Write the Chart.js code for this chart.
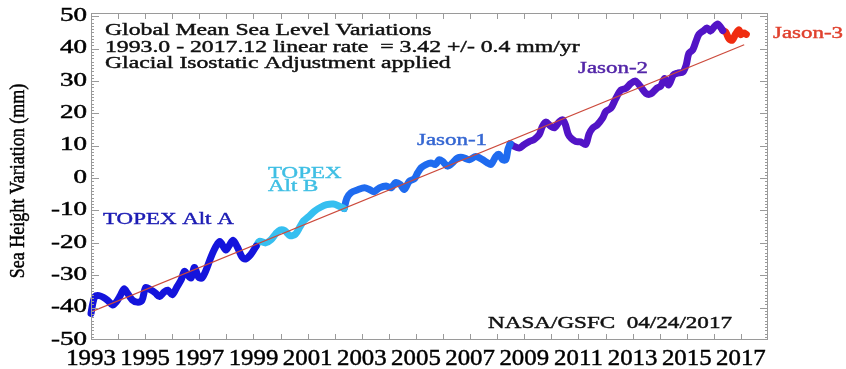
<!DOCTYPE html>
<html>
<head>
<meta charset="utf-8">
<script src="https://cdn.jsdelivr.net/npm/chart.js@4/dist/chart.umd.min.js"></script>
<style>
  html, body { margin: 0; padding: 0; background: #ffffff; }
  #wrap { width: 846px; height: 369px; }
</style>
</head>
<body>
<div id="wrap"><canvas id="c" width="846" height="369"></canvas></div>
<script>
// Global mean sea level, mm, by mission (decimal years)
const topexAYears = [1993.00,1993.06,1993.15,1993.30,1993.45,1993.62,1993.80,1993.93,1994.08,1994.22,1994.35,1994.52,1994.70,1994.88,1995.02,1995.20,1995.38,1995.53,1995.70,1995.83,1996.00,1996.18,1996.33,1996.45,1996.57,1996.70,1996.82,1996.97,1997.10,1997.25,1997.43,1997.62,1997.76,1997.98,1998.12,1998.25,1998.40,1998.58,1998.70,1998.90,1999.10];
const topexAValues = [-41.8,-39.0,-36.5,-36.3,-36.8,-37.8,-39.2,-38.3,-36.3,-34.2,-35.6,-37.6,-38.3,-37.8,-33.8,-34.5,-35.5,-36.6,-35.2,-34.6,-36.0,-33.5,-31.4,-28.8,-30.0,-30.8,-27.6,-30.6,-30.8,-28.4,-24.4,-21.0,-19.6,-22.2,-20.6,-19.2,-21.2,-24.4,-25.0,-23.6,-21.0];

const topexBYears = [1999.10,1999.22,1999.45,1999.65,1999.82,1999.98,2000.15,2000.35,2000.55,2000.72,2000.85,2001.05,2001.25,2001.48,2001.70,2001.95,2002.15,2002.35];
const topexBValues = [-21.0,-19.5,-20.0,-19.0,-17.2,-16.0,-16.2,-17.8,-17.3,-15.0,-13.2,-11.8,-10.2,-9.0,-8.2,-8.0,-8.6,-9.4];

const jason1Years = [2002.35,2002.45,2002.60,2002.85,2003.10,2003.30,2003.45,2003.65,2003.90,2004.08,2004.25,2004.42,2004.57,2004.75,2004.94,2005.06,2005.19,2005.37,2005.55,2005.72,2005.86,2005.98,2006.17,2006.35,2006.53,2006.72,2006.97,2007.21,2007.46,2007.64,2007.77,2007.95,2008.07,2008.20,2008.32,2008.40,2008.48];
const jason1Values = [-9.4,-6.2,-4.5,-3.6,-3.0,-3.6,-4.2,-3.0,-2.4,-3.0,-1.4,-2.0,-3.5,-1.0,-0.2,1.6,3.2,4.2,4.7,4.2,5.7,5.2,3.7,4.7,6.2,6.4,5.7,6.7,5.7,4.7,4.2,6.7,7.3,5.7,5.7,9.0,10.6];

const jason2Years = [2008.48,2008.63,2008.81,2008.99,2009.18,2009.36,2009.55,2009.67,2009.80,2009.98,2010.12,2010.30,2010.42,2010.52,2010.62,2010.74,2010.90,2011.08,2011.27,2011.39,2011.52,2011.70,2011.89,2012.01,2012.20,2012.38,2012.57,2012.75,2012.93,2013.10,2013.30,2013.49,2013.67,2013.90,2014.04,2014.18,2014.33,2014.50,2014.65,2014.86,2014.98,2015.08,2015.22,2015.33,2015.45,2015.63,2015.74,2015.88,2016.00,2016.14,2016.25,2016.33];
const jason2Values = [10.6,9.8,9.3,10.3,11.3,11.9,13.4,16.0,17.3,16.0,15.6,17.5,18.0,16.5,13.6,12.2,11.3,11.2,10.4,13.6,15.4,16.5,18.5,20.6,21.6,24.6,27.2,27.7,29.2,30.0,28.2,26.2,26.0,27.8,28.4,30.8,28.8,31.8,32.4,32.8,35.0,38.6,39.6,42.0,44.4,45.6,46.4,45.4,46.6,47.6,46.6,45.6];

const jason3Years = [2016.33,2016.44,2016.56,2016.68,2016.81,2016.93,2016.99,2017.11,2017.20];
const jason3Values = [45.6,45.1,43.0,42.6,44.6,45.8,44.3,44.8,44.4];

// Linear fit 1993.0 - 2017.12, 3.42 mm/yr
const trendYears = [1993.0, 2017.12];
const trendValues = [-41.3, 41.2];

// Axis ticks and labels
const xLabelYears = [1993,1995,1997,1999,2001,2003,2005,2007,2009,2011,2013,2015,2017];
const yLabelValues = [-50,-40,-30,-20,-10,0,10,20,30,40,50];

const titleLines = [
  'Global Mean Sea Level Variations',
  '1993.0 - 2017.12 linear rate  = 3.42 +/- 0.4 mm/yr',
  'Glacial Isostatic Adjustment applied'
];
const creditText = 'NASA/GSFC  04/24/2017';
const yAxisTitle = 'Sea Height Variation (mm)';

const SERIF = '"Liberation Serif", "Times New Roman", "DejaVu Serif", serif';

function pts(xs, ys) { return xs.map((x, i) => ({ x: x, y: ys[i] })); }

// Serif text, widened horizontally, lightly stroked for weight
function stretchText(ctx, text, x, y, size, sx, align, color) {
  ctx.save();
  ctx.font = size + 'px ' + SERIF;
  ctx.fillStyle = color;
  ctx.strokeStyle = color;
  ctx.lineWidth = 0.45;
  ctx.textBaseline = 'middle';
  ctx.textAlign = 'left';
  const w = ctx.measureText(text).width * sx;
  const left = align === 'left' ? x : (align === 'right' ? x - w : x - w / 2);
  ctx.translate(left, y);
  ctx.scale(sx, 1);
  ctx.fillText(text, 0, 0);
  ctx.strokeText(text, 0, 0);
  ctx.restore();
}

const frameAndText = {
  id: 'frameAndText',
  afterDraw(chart) {
    const ctx = chart.ctx;
    const xs = chart.scales.x, ys = chart.scales.y;
    const a = chart.chartArea;
    ctx.save();
    // frame
    ctx.strokeStyle = '#9a9a9a';
    ctx.lineWidth = 1;
    ctx.strokeRect(a.left + 0.5, a.top + 0.5, a.right - a.left - 1, a.bottom - a.top - 1);
    // year ticks on bottom and top
    ctx.beginPath();
    for (let yr = 1994; yr < 2018; yr++) {
      const px = Math.round(xs.getPixelForValue(yr)) + 0.5;
      ctx.moveTo(px, a.bottom); ctx.lineTo(px, a.bottom - 6);
      ctx.moveTo(px, a.top); ctx.lineTo(px, a.top + 6);
    }
    // mm ticks on left and right
    for (let v = -49; v <= 50; v++) {
      const py = Math.round(ys.getPixelForValue(v)) + 0.5;
      const len = (v % 10 === 0) ? 8 : 3;
      ctx.moveTo(a.left, py); ctx.lineTo(a.left + len, py);
      ctx.moveTo(a.right, py); ctx.lineTo(a.right - len, py);
    }
    ctx.stroke();
    ctx.restore();

    // tick labels
    xLabelYears.forEach(yr => {
      stretchText(ctx, String(yr), xs.getPixelForValue(yr), 359, 23, 1.08, 'center', '#000');
    });
    yLabelValues.forEach(v => {
      stretchText(ctx, String(v), 87, ys.getPixelForValue(v), 18, 1.5, 'right', '#000');
    });

    // axis title (rotated)
    ctx.save();
    ctx.translate(19, 181);
    ctx.rotate(-Math.PI / 2);
    ctx.scale(1, 1.15);
    ctx.font = '18px ' + SERIF;
    ctx.fillStyle = '#000';
    ctx.strokeStyle = '#000';
    ctx.lineWidth = 0.4;
    ctx.textAlign = 'center';
    ctx.textBaseline = 'middle';
    ctx.fillText(yAxisTitle, 0, 0);
    ctx.strokeText(yAxisTitle, 0, 0);
    ctx.restore();

    // header lines
    const hy = [30, 47, 63];
    titleLines.forEach((t, i) => stretchText(ctx, t, 105, hy[i], 17.5, 1.355, 'left', '#111'));
    stretchText(ctx, creditText, 732, 323, 17.5, 1.32, 'right', '#111');

    // mission labels
    stretchText(ctx, 'TOPEX Alt A', 103, 219, 17.5, 1.31, 'left', '#1c1cb4');
    stretchText(ctx, 'TOPEX', 268, 173, 17.5, 1.31, 'left', '#3fbfe4');
    stretchText(ctx, 'Alt B', 268, 186, 17.5, 1.31, 'left', '#3fbfe4');
    stretchText(ctx, 'Jason-1', 417, 140, 17.5, 1.31, 'left', '#3567d2');
    stretchText(ctx, 'Jason-2', 578, 68, 17.5, 1.31, 'left', '#5326a8');
    stretchText(ctx, 'Jason-3', 773, 33, 17.5, 1.31, 'left', '#e0412e');
  }
};

const seriesStyle = (color) => ({
  borderColor: color,
  backgroundColor: color,
  borderWidth: 7,
  pointRadius: 0,
  tension: 0.3,
  borderCapStyle: 'round',
  borderJoinStyle: 'round',
  fill: false,
  order: 2,
  clip: 6
});

new Chart(document.getElementById('c'), {
  type: 'line',
  data: {
    datasets: [
      Object.assign({ label: 'TOPEX Alt A', data: pts(topexAYears, topexAValues) }, seriesStyle('#1414dc')),
      Object.assign({ label: 'TOPEX Alt B', data: pts(topexBYears, topexBValues) }, seriesStyle('#36bff0')),
      Object.assign({ label: 'Jason-1', data: pts(jason1Years, jason1Values) }, seriesStyle('#1f6bef')),
      Object.assign({ label: 'Jason-2', data: pts(jason2Years, jason2Values) }, seriesStyle('#5214c6')),
      Object.assign({ label: 'Jason-3', data: pts(jason3Years, jason3Values) }, seriesStyle('#f02c10')),
      {
        label: 'Linear rate',
        data: pts(trendYears, trendValues),
        borderColor: '#cc4a3c',
        borderWidth: 1.3,
        pointRadius: 0,
        tension: 0,
        fill: false,
        order: 0
      }
    ]
  },
  options: {
    responsive: false,
    animation: false,
    devicePixelRatio: 1,
    layout: { padding: { left: 0, top: 13, right: 78, bottom: 0 } },
    plugins: { legend: { display: false }, tooltip: { enabled: false }, title: { display: false } },
    scales: {
      x: {
        type: 'linear', min: 1993, max: 2018,
        ticks: { display: false },
        grid: { display: false },
        border: { display: false },
        afterFit: (s) => { s.height = 29; }
      },
      y: {
        type: 'linear', min: -50, max: 51,
        ticks: { display: false },
        grid: { display: false },
        border: { display: false },
        afterFit: (s) => { s.width = 91; }
      }
    }
  },
  plugins: [frameAndText]
});
</script>
</body>
</html>
